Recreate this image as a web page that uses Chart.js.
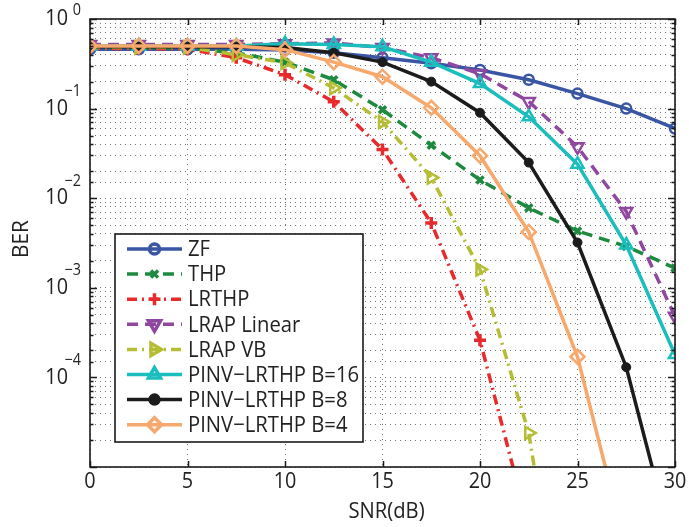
<!DOCTYPE html>
<html>
<head>
<meta charset="utf-8">
<title>BER vs SNR</title>
<script src="https://cdn.jsdelivr.net/npm/chart.js@4/dist/chart.umd.min.js"></script>
<style>
  html, body { margin: 0; padding: 0; background: #fff; }
  #wrap { width: 689px; height: 527px; position: relative; }
</style>
</head>
<body>
<div id="wrap"><canvas id="c" width="689" height="527"></canvas></div>
<script>
// SNR sweep (dB)
const snr = [0, 2.5, 5, 7.5, 10, 12.5, 15, 17.5, 20, 22.5, 25, 27.5, 30];

// Bit error rate per precoder
const berZF        = [0.46, 0.46, 0.46, 0.46, 0.45, 0.42, 0.37, 0.32, 0.27, 0.21, 0.147, 0.10, 0.06];
const berTHP       = [0.48, 0.48, 0.47, 0.42, 0.33, 0.21, 0.097, 0.039, 0.016, 0.0078, 0.0043, 0.0029, 0.00166];
const berLRTHP     = [0.47, 0.47, 0.46, 0.37, 0.239, 0.119, 0.035, 0.0053, 0.00026, 2.1e-6, null, null, null];
const berLRAPLin   = [0.52, 0.52, 0.52, 0.52, 0.53, 0.54, 0.48, 0.37, 0.245, 0.12, 0.0375, 0.0071, 0.00048];
const berLRAPVB    = [0.48, 0.48, 0.48, 0.40, 0.325, 0.17, 0.071, 0.017, 0.0016, 2.4e-5, 1e-8, null, null];
const berPinv16    = [0.50, 0.50, 0.50, 0.50, 0.53, 0.52, 0.49, 0.33, 0.19, 0.081, 0.024, 0.003, 0.00018];
const berPinv8     = [0.49, 0.49, 0.49, 0.49, 0.48, 0.42, 0.33, 0.20, 0.09, 0.025, 0.0032, 0.00013, 1.05e-6];
const berPinv4     = [0.50, 0.50, 0.50, 0.50, 0.455, 0.33, 0.227, 0.102, 0.0298, 0.0042, 0.00017, 1.2e-6, null];

const seriesNames = ['ZF', 'THP', 'LRTHP', 'LRAP Linear', 'LRAP VB',
                     'PINV\u2212LRTHP B=16', 'PINV\u2212LRTHP B=8', 'PINV\u2212LRTHP B=4'];

// Axis tick values
const xTicks = [0, 5, 10, 15, 20, 25, 30];
const yDecades = [0, -1, -2, -3, -4];

const FONT = '"Open Sans", "Noto Sans", sans-serif';

const styles = [
  { color: '#3a55a4', dash: [],            style: 'circle',   radius: 5,   rot: 0,   fill: 'rgba(0,0,0,0)', bw: 2.5, lw: 3.5 },
  { color: '#1d8a3f', dash: [11, 7],       style: 'crossRot', radius: 5,   rot: 0,   fill: 'rgba(0,0,0,0)', bw: 3.5, lw: 3.5 },
  { color: '#e82a2c', dash: [10, 5, 2, 5], style: 'cross',    radius: 6,   rot: 0,   fill: 'rgba(0,0,0,0)', bw: 3.5, lw: 3.5 },
  { color: '#8f479f', dash: [11, 7],       style: 'triangle', radius: 7,   rot: 180, fill: 'rgba(0,0,0,0)', bw: 2.5, lw: 3.5 },
  { color: '#b5bd35', dash: [10, 5, 2, 5], style: 'triangle', radius: 7,   rot: 90,  fill: 'rgba(0,0,0,0)', bw: 2.5, lw: 3.5 },
  { color: '#1cbdbd', dash: [],            style: 'triangle', radius: 7,   rot: 0,   fill: 'rgba(0,0,0,0)', bw: 2.5, lw: 3.5 },
  { color: '#1c1c1c', dash: [],            style: 'circle',   radius: 4.5, rot: 0,   fill: '#1c1c1c',       bw: 1,   lw: 3.5 },
  { color: '#f7a86c', dash: [],            style: 'rectRot',  radius: 7,   rot: 0,   fill: 'rgba(0,0,0,0)', bw: 2.5, lw: 3.5 }
];

const allSeries = [berZF, berTHP, berLRTHP, berLRAPLin, berLRAPVB, berPinv16, berPinv8, berPinv4];

const datasets = allSeries.map((vals, i) => {
  const s = styles[i];
  return {
    label: seriesNames[i],
    data: snr.map((x, k) => ({ x: x, y: vals[k] })),
    borderColor: s.color,
    backgroundColor: s.color,
    borderWidth: s.lw,
    borderDash: s.dash,
    pointStyle: s.style,
    pointRadius: s.radius,
    pointRotation: s.rot,
    pointBorderWidth: s.bw,
    pointBorderColor: s.color,
    pointBackgroundColor: s.fill,
    pointHoverRadius: s.radius,
    tension: 0,
    spanGaps: false,
    order: -i,
    clip: 0
  };
});

// Draw text squeezed horizontally (tall, narrow lettering)
function squeezedText(ctx, text, x, y, size, sx, align) {
  ctx.save();
  ctx.font = size + 'px ' + FONT;
  ctx.textAlign = align;
  ctx.textBaseline = 'middle';
  ctx.translate(x, y);
  ctx.scale(sx, 1);
  ctx.fillText(text, 0, 0);
  ctx.restore();
}

// Frame, inward tick marks and MATLAB-style labels
const decorPlugin = {
  id: 'decor',
  afterDatasetsDraw(chart) {
    const ctx = chart.ctx;
    const a = chart.chartArea;
    const xs = chart.scales.x, ys = chart.scales.y;
    ctx.save();
    ctx.strokeStyle = '#1a1a1a';
    ctx.lineWidth = 1.5;
    ctx.setLineDash([]);
    // tick marks
    ctx.beginPath();
    xTicks.forEach(v => {
      const px = Math.round(xs.getPixelForValue(v)) + 0.5;
      ctx.moveTo(px, a.bottom); ctx.lineTo(px, a.bottom - 6);
      ctx.moveTo(px, a.top);    ctx.lineTo(px, a.top + 6);
    });
    ys.ticks.forEach(t => {
      const lg = Math.log10(t.value);
      const major = Math.abs(lg - Math.round(lg)) < 1e-9;
      const len = major ? 7 : 3.5;
      const py = Math.round(ys.getPixelForValue(t.value)) + 0.5;
      ctx.moveTo(a.left, py);  ctx.lineTo(a.left + len, py);
      ctx.moveTo(a.right, py); ctx.lineTo(a.right - len, py);
    });
    ctx.stroke();
    // frame
    ctx.lineWidth = 1.6;
    ctx.strokeRect(a.left, a.top, a.right - a.left, a.bottom - a.top);

    ctx.fillStyle = '#222';
    // x tick labels
    xTicks.forEach(v => {
      squeezedText(ctx, String(v), xs.getPixelForValue(v), a.bottom + 15, 22, 0.9, 'center');
    });
    // y tick labels: 10 with superscript exponent
    yDecades.forEach(e => {
      const py = ys.getPixelForValue(Math.pow(10, e));
      squeezedText(ctx, '10', 68, py, 22, 0.9, 'right');
      const expText = e === 0 ? '0' : '\u2212' + String(-e);
      squeezedText(ctx, expText, 81, e === 0 ? py - 9 : py - 17, 16, 0.9, 'right');
    });
    // axis titles
    squeezedText(ctx, 'SNR(dB)', (a.left + a.right) / 2 + 4, 512, 22, 0.92, 'center');
    ctx.save();
    ctx.translate(22, 239);
    ctx.rotate(-Math.PI / 2);
    squeezedText(ctx, 'BER', 0, 0, 22, 0.95, 'center');
    ctx.restore();

    // legend
    const lx = 115, ly = 234, lw = 248, lh = 208;
    ctx.fillStyle = '#fff';
    ctx.fillRect(lx, ly, lw, lh);
    ctx.lineWidth = 1.6;
    ctx.strokeStyle = '#1a1a1a';
    ctx.strokeRect(lx, ly, lw, lh);
    chart.data.datasets.forEach((ds, i) => {
      const y = 249 + i * 25.1;
      ctx.save();
      ctx.strokeStyle = ds.borderColor;
      ctx.lineWidth = ds.borderWidth;
      ctx.setLineDash(ds.borderDash);
      ctx.beginPath();
      ctx.moveTo(127, y); ctx.lineTo(182, y);
      ctx.stroke();
      ctx.setLineDash([]);
      ctx.strokeStyle = ds.pointBorderColor;
      ctx.fillStyle = ds.pointBackgroundColor;
      Chart.helpers.drawPoint(ctx, {
        pointStyle: ds.pointStyle,
        rotation: ds.pointRotation,
        radius: ds.pointRadius,
        borderWidth: ds.pointBorderWidth
      }, 154.5, y);
      ctx.restore();
      ctx.fillStyle = '#222';
      squeezedText(ctx, ds.label, 188, y + 1, 22, 0.92, 'left');
    });
    ctx.restore();
  }
};

const bgPlugin = {
  id: 'bg',
  beforeDraw(chart) {
    const ctx = chart.ctx;
    ctx.save();
    ctx.fillStyle = '#fff';
    ctx.fillRect(0, 0, chart.width, chart.height);
    ctx.restore();
  }
};

new Chart(document.getElementById('c'), {
  type: 'line',
  data: { datasets: datasets },
  options: {
    responsive: false,
    animation: false,
    layout: { padding: { left: 90, right: 14, top: 19, bottom: 60 } },
    plugins: { legend: { display: false }, tooltip: { enabled: false } },
    scales: {
      x: {
        type: 'linear',
        min: 0, max: 30,
        ticks: { display: false, stepSize: 5, autoSkip: false },
        grid: { color: 'rgba(0,0,0,0.55)', lineWidth: 1, drawTicks: false },
        border: { display: false, dash: [1, 4] }
      },
      y: {
        type: 'logarithmic',
        min: 1e-5, max: 1,
        ticks: { display: false, autoSkip: false },
        grid: { color: 'rgba(0,0,0,0.55)', lineWidth: 1, drawTicks: false },
        border: { display: false, dash: [1, 4] }
      }
    }
  },
  plugins: [bgPlugin, decorPlugin]
});
</script>
</body>
</html>
